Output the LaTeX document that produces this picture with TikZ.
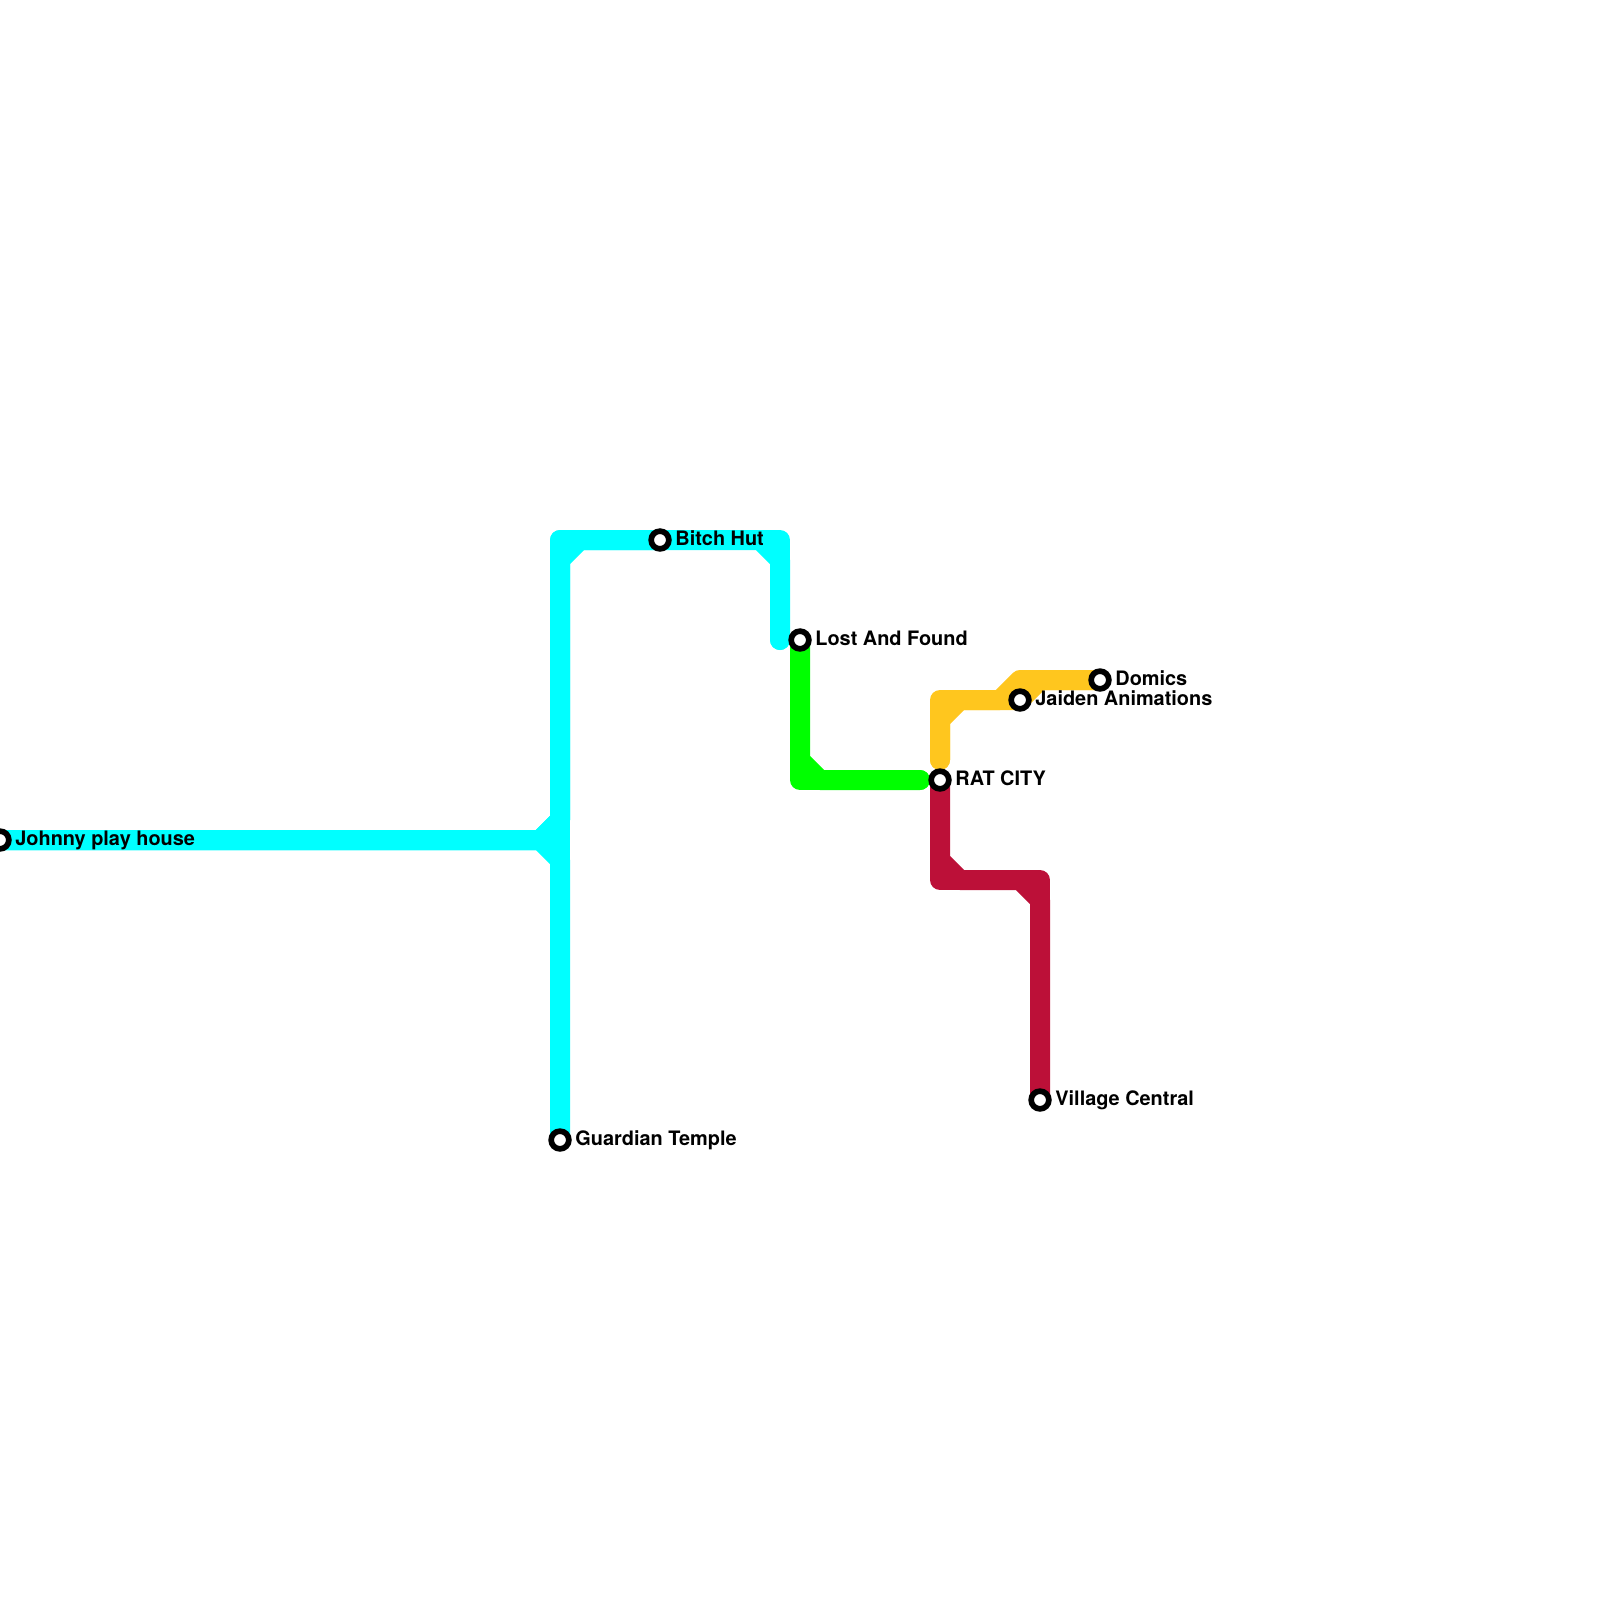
\documentclass[tikz,border=0pt]{standalone}
\usepackage{fontspec}
\setmainfont{TeX Gyre Heros}
\usetikzlibrary{backgrounds}
\definecolor{cyanline}{HTML}{00FFFF}
\definecolor{greenline}{HTML}{00FF00}
\definecolor{yellowline}{HTML}{FFC61E}
\definecolor{redline}{HTML}{BC1038}
\tikzset{
  metro/.style={line width=10pt,line cap=round,line join=round},
  stn/.style={circle,draw=black,fill=white,line width=2.85pt,minimum size=8.85pt,inner sep=0pt,outer sep=0pt},
  lbl/.style={anchor=base west,inner sep=0pt,font=\fontsize{9.95}{11}\selectfont\bfseries,text=black}
}
\begin{document}
\begin{tikzpicture}[x=0.5pt,y=-0.5pt]
\useasboundingbox (0,0) rectangle (1600,1600);
% stations
\node[stn] (johnny) at (0,840) {};
\node[stn] (guardian) at (560,1140) {};
\node[stn] (bitch) at (660,540) {};
\node[stn] (lost) at (800,640) {};
\node[stn] (rat) at (940,780) {};
\node[stn] (jaiden) at (1020,700) {};
\node[stn] (domics) at (1100,680) {};
\node[stn] (village) at (1040,1100) {};
% labels
\node[lbl] (ljohnny) at (15,845.5) {Johnny play house};
\node[lbl] (lguardian) at (575,1145.5) {Guardian Temple};
\node[lbl] (lbitch) at (675,545.5) {Bitch Hut};
\node[lbl] (llost) at (815,645.5) {Lost And Found};
\node[lbl] (lrat) at (955,785.5) {RAT CITY};
\node[lbl] (ljaiden) at (1035,705.5) {Jaiden Animations};
\node[lbl] (ldomics) at (1115,685.5) {Domics};
\node[lbl] (lvillage) at (1055,1105.5) {Village Central};
% free ends
\coordinate (cyanend) at (780,640);
\coordinate (greenend) at (920,780);
\coordinate (yellowend) at (940,760);
\begin{scope}[on background layer]
\draw[metro,cyanline] (johnny.center) -- (540,840) -- (560,860) -- (guardian.center);
\draw[metro,cyanline] (johnny.center) -- (540,840) -- (560,820) -- (560,540) -- (bitch.center);
\draw[metro,cyanline] (johnny.center) -- (540,840) -- (560,820) -- (560,560) -- (580,540) -- (bitch.center);
\draw[metro,cyanline] (guardian.center) -- (560,540);
\draw[metro,cyanline] (bitch.center) -- (780,540) -- (cyanend);
\draw[metro,cyanline] (bitch.center) -- (760,540) -- (780,560) -- (cyanend);
\draw[metro,greenline] (lost.center) -- (800,780) -- (greenend);
\draw[metro,greenline] (lost.center) -- (800,760) -- (820,780) -- (greenend);
\draw[metro,yellowline] (yellowend) -- (940,700) -- (1000,700) -- (1020,680) -- (domics.center);
\draw[metro,yellowline] (yellowend) -- (940,720) -- (960,700) -- (jaiden.center);
\draw[metro,yellowline] (jaiden.center) -- (1040,680) -- (domics.center);
\draw[metro,redline] (rat.center) -- (940,880) -- (1040,880) -- (village.center);
\draw[metro,redline] (rat.center) -- (940,860) -- (960,880) -- (1020,880) -- (1040,900) -- (village.center);
\end{scope}
\end{tikzpicture}
\end{document}
